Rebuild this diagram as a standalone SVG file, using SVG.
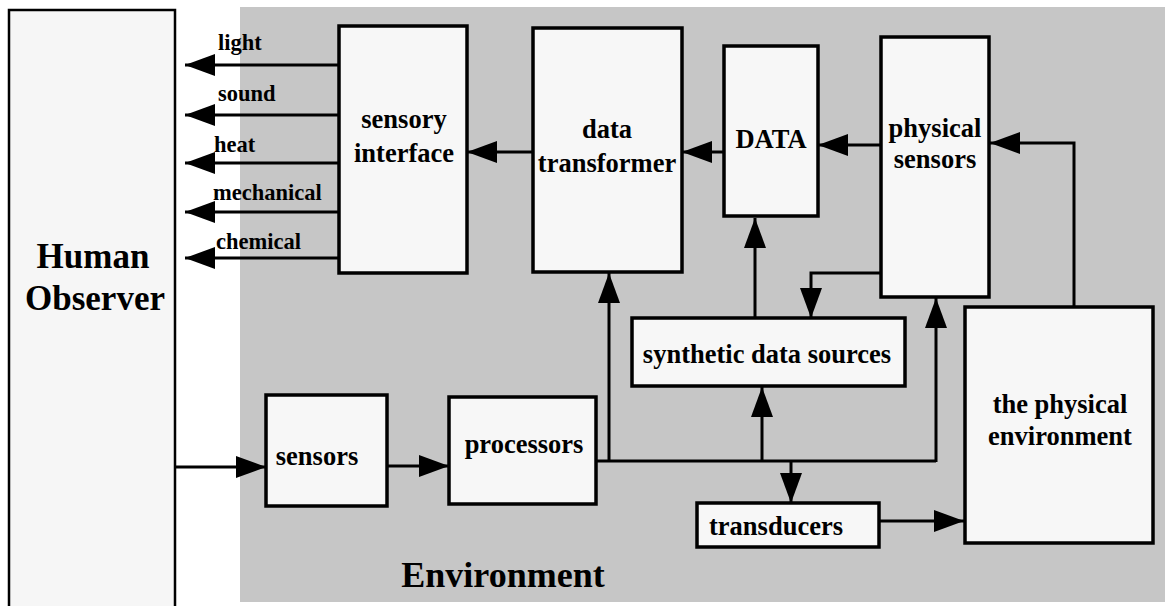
<svg xmlns="http://www.w3.org/2000/svg" width="1169" height="606" viewBox="0 0 1169 606">
  <style>
    .box { fill: #f7f7f7; stroke: #000; stroke-width: 3.5; }
    .lbl { font-family: "Liberation Serif", "Times New Roman", "DejaVu Serif", serif; font-weight: bold; font-size: 26.5px; fill: #000; text-anchor: middle; }
    .sig { font-family: "Liberation Serif", "Times New Roman", "DejaVu Serif", serif; font-weight: bold; font-size: 22.5px; fill: #000; }
    .wire { fill: none; stroke: #000; stroke-width: 3; marker-end: url(#head); }
    .plain { fill: none; stroke: #000; stroke-width: 3; }
  </style>
  <defs>
    <marker id="head" markerUnits="userSpaceOnUse" markerWidth="30" markerHeight="22" refX="30" refY="11" orient="auto">
      <path d="M0,0 L30,11 L0,22 Z" fill="#000"/>
    </marker>
  </defs>

  <rect width="1169" height="606" fill="#ffffff"/>

  <!-- observer panel -->
  <g id="human-observer">
    <path d="M9,620 V10 H175 V620" fill="#f6f6f6" stroke="#000" stroke-width="2.5"/>
    <text class="lbl" x="93" y="268" style="font-size:35px">Human</text>
    <text class="lbl" x="95" y="310" style="font-size:35px">Observer</text>
  </g>

  <!-- environment panel -->
  <g id="environment">
    <rect x="240" y="7" width="925" height="595" fill="#c6c6c6"/>
    <text class="lbl" x="503" y="587" style="font-size:36px">Environment</text>
  </g>

  <g id="connectors">
    <!-- sensory outputs toward the observer -->
    <line class="wire" x1="339" y1="65" x2="185" y2="65"/>
    <line class="wire" x1="339" y1="115" x2="185" y2="115"/>
    <line class="wire" x1="339" y1="163" x2="185" y2="163"/>
    <line class="wire" x1="339" y1="212" x2="185" y2="212"/>
    <line class="wire" x1="339" y1="258" x2="185" y2="258"/>
    <!-- upper chain -->
    <line class="wire" x1="533" y1="152" x2="467" y2="152"/>
    <line class="wire" x1="724" y1="152" x2="682" y2="152"/>
    <line class="wire" x1="881" y1="145" x2="818" y2="145"/>
    <polyline class="wire" points="1074,307 1074,143 990,143"/>
    <line class="wire" x1="755" y1="318" x2="755" y2="218"/>
    <polyline class="wire" points="881,273 811,273 811,318"/>
    <!-- observer to sensors to processors -->
    <line class="wire" x1="176" y1="467" x2="266" y2="467"/>
    <line class="wire" x1="387" y1="466" x2="449" y2="466"/>
    <!-- processor bus -->
    <line class="plain" x1="595" y1="461" x2="936" y2="461"/>
    <line class="wire" x1="609" y1="461" x2="609" y2="273"/>
    <line class="wire" x1="762" y1="461" x2="762" y2="387"/>
    <line class="wire" x1="936" y1="462" x2="936" y2="298"/>
    <line class="wire" x1="791" y1="461" x2="791" y2="503"/>
    <line class="wire" x1="879" y1="521" x2="964" y2="521"/>
  </g>

  <g id="signal-labels">
    <text class="sig" x="218" y="50">light</text>
    <text class="sig" x="218" y="101">sound</text>
    <text class="sig" x="214" y="152">heat</text>
    <text class="sig" x="213" y="200">mechanical</text>
    <text class="sig" x="216" y="249">chemical</text>
  </g>

  <g id="sensory-interface">
    <rect class="box" x="339" y="26" width="128" height="247"/>
    <text class="lbl" x="404" y="128">sensory</text>
    <text class="lbl" x="404" y="162">interface</text>
  </g>

  <g id="data-transformer">
    <rect class="box" x="533" y="28" width="149" height="244"/>
    <text class="lbl" x="607" y="138">data</text>
    <text class="lbl" x="607" y="172">transformer</text>
  </g>

  <g id="data">
    <rect class="box" x="724" y="46" width="94" height="170"/>
    <text class="lbl" x="771" y="148">DATA</text>
  </g>

  <g id="physical-sensors">
    <rect class="box" x="881" y="37" width="108" height="260"/>
    <text class="lbl" x="935" y="137">physical</text>
    <text class="lbl" x="935" y="168">sensors</text>
  </g>

  <g id="synthetic-data-sources">
    <rect class="box" x="632" y="318" width="273" height="68"/>
    <text class="lbl" x="767" y="363">synthetic data sources</text>
  </g>

  <g id="sensors">
    <rect class="box" x="266" y="395" width="121" height="111"/>
    <text class="lbl" x="317" y="465">sensors</text>
  </g>

  <g id="processors">
    <rect class="box" x="449" y="397" width="147" height="107"/>
    <text class="lbl" x="524" y="453">processors</text>
  </g>

  <g id="transducers">
    <rect class="box" x="697" y="503" width="182" height="44"/>
    <text class="lbl" x="776" y="535">transducers</text>
  </g>

  <g id="physical-environment">
    <rect class="box" x="965" y="307" width="188" height="236"/>
    <text class="lbl" x="1060" y="413">the physical</text>
    <text class="lbl" x="1060" y="445">environment</text>
  </g>
</svg>
